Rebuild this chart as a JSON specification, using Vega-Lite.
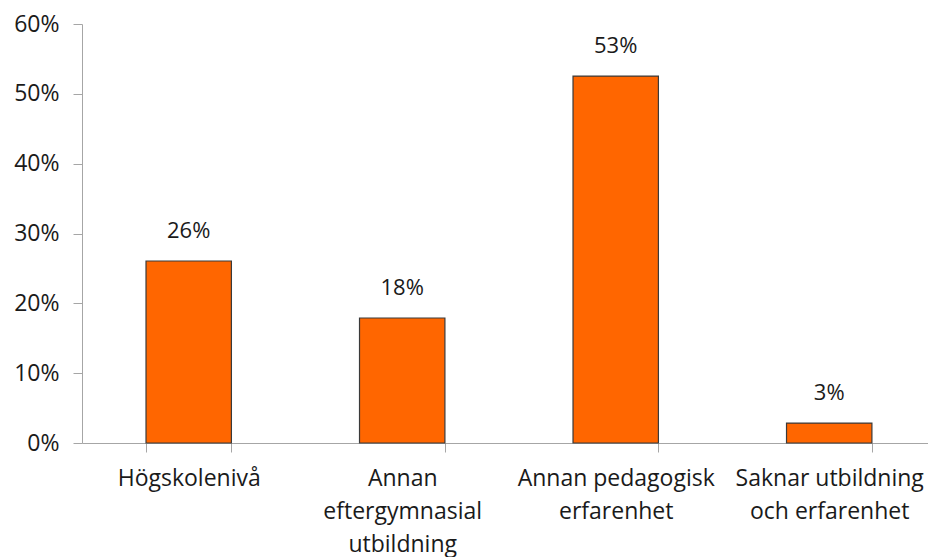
{
  "$schema": "https://vega.github.io/schema/vega-lite/v6.json",
  "autosize": {"type": "none"},
  "padding": {"left": 82, "top": 24, "right": 0, "bottom": 114},
  "width": 846,
  "height": 419,
  "background": "white",
  "config": {
    "view": {"stroke": null},
    "font": "Open Sans",
    "axis": {"labelFont": "Open Sans", "labelFontSize": 22, "labelColor": "#1a1a1a", "domainColor": "#a6a6a6", "tickColor": "#a6a6a6", "grid": false, "title": null}
  },
  "data": {
    "values": [
      {"category": "Högskolenivå", "share": 0.2606},
      {"category": "Annan|eftergymnasial|utbildning", "share": 0.179},
      {"category": "Annan pedagogisk|erfarenhet", "share": 0.5255},
      {"category": "Saknar utbildning|och erfarenhet", "share": 0.0286}
    ]
  },
  "encoding": {
    "x": {
      "field": "category", "type": "nominal", "sort": null,
      "scale": {"paddingInner": 0.6, "paddingOuter": 0.28125, "align": 0.533},
      "axis": {"labelAngle": 0, "ticks": true, "tickBand": "extent", "tickSize": 9, "labelPadding": 15, "labelFontSize": 23, "labelLineHeight": 33, "labelExpr": "datum.value ? split(datum.value, '|') : ''", "labelLimit": 300}
    },
    "y": {
      "field": "share", "type": "quantitative",
      "scale": {"domain": [0, 0.6], "nice": false},
      "axis": {"values": [0, 0.1, 0.2, 0.3, 0.4, 0.5, 0.6], "format": ".0%", "tickSize": 9, "labelPadding": 14, "labelFontSize": 23}
    }
  },
  "layer": [
    {"mark": {"type": "bar", "color": "#FF6600", "stroke": "#3a3a3a", "strokeWidth": 1.2}},
    {"mark": {"type": "text", "dy": -30, "fontSize": 22, "color": "#1a1a1a", "font": "Open Sans"},
     "encoding": {"text": {"field": "share", "type": "quantitative", "format": ".0%"}}}
  ]
}
